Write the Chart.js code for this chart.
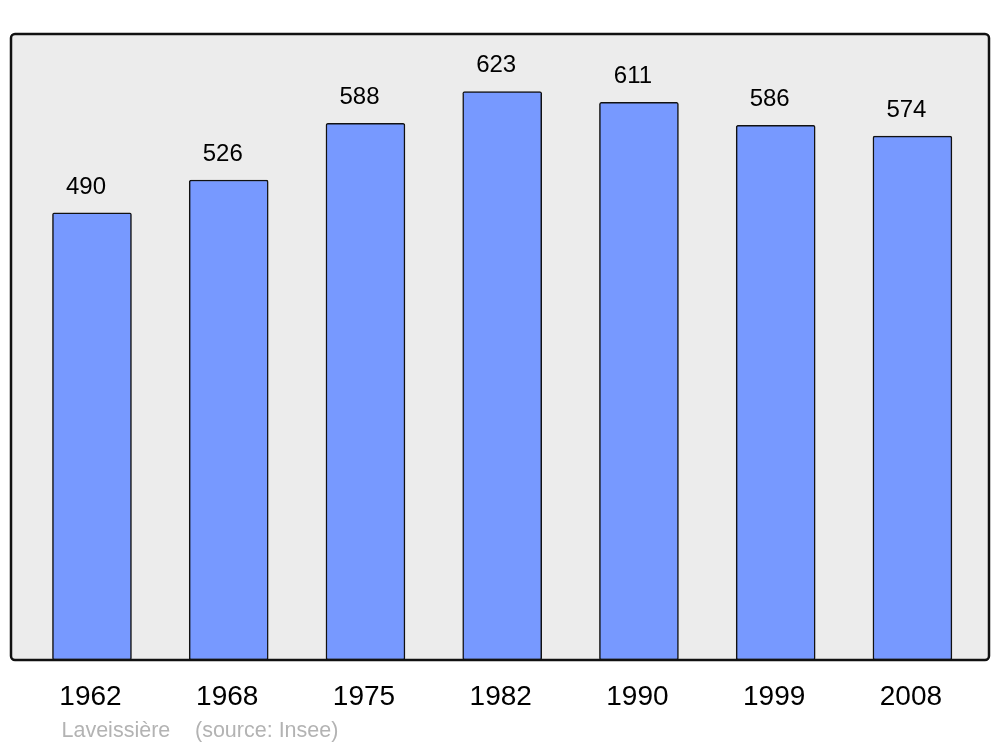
<!DOCTYPE html>
<html>
<head>
<meta charset="utf-8">
<script src="https://cdn.jsdelivr.net/npm/chart.js@4"></script>
<style>
html,body{margin:0;padding:0;background:#fff;}
#wrap{width:1000px;height:747px;}
</style>
</head>
<body>
<div id="wrap"><canvas id="c" width="1000" height="747"></canvas></div>
<script>
const years = ["1962","1968","1975","1982","1990","1999","2008"];
const population = [490,526,588,623,611,586,574];
const placeName = "Laveissière";
const sourceText = "(source: Insee)";

const FONT = '"Liberation Sans", Arial, sans-serif';

function roundRect(ctx,x,y,w,h,r){
  ctx.beginPath();
  ctx.moveTo(x+r,y);
  ctx.lineTo(x+w-r,y);
  ctx.arcTo(x+w,y,x+w,y+r,r);
  ctx.lineTo(x+w,y+h-r);
  ctx.arcTo(x+w,y+h,x+w-r,y+h,r);
  ctx.lineTo(x+r,y+h);
  ctx.arcTo(x,y+h,x,y+h-r,r);
  ctx.lineTo(x,y+r);
  ctx.arcTo(x,y,x+r,y,r);
  ctx.closePath();
}

const framePlugin = {
  id:'frame',
  beforeDatasetsDraw(chart){
    const ctx = chart.ctx;
    ctx.save();
    roundRect(ctx,11,34,978,626,4);
    ctx.fillStyle = '#ececec';
    ctx.fill();
    ctx.restore();
  },
  afterDatasetsDraw(chart){
    const ctx = chart.ctx;
    const xs = chart.scales.x, ys = chart.scales.y;
    ctx.save();
    roundRect(ctx,11,34,978,626,4);
    ctx.lineWidth = 2.5;
    ctx.strokeStyle = '#111';
    ctx.stroke();
    // value labels
    ctx.fillStyle = '#000';
    ctx.font = '24px ' + FONT;
    ctx.textAlign = 'center';
    ctx.textBaseline = 'alphabetic';
    population.forEach((v,i)=>{
      const x = xs.getPixelForValue(i);
      const y = ys.getPixelForValue(v);
      ctx.fillText(String(v), x-6, y-19);
    });
    // category labels
    ctx.font = '28px ' + FONT;
    years.forEach((yr,i)=>{
      const x = xs.getPixelForValue(i);
      ctx.fillText(yr, x-1.5, 705);
    });
    // footer
    ctx.fillStyle = '#b3b3b3';
    ctx.font = '21.5px ' + FONT;
    ctx.textAlign = 'left';
    ctx.fillText(placeName, 61.5, 737);
    ctx.fillText(sourceText, 195, 737);
    ctx.restore();
  }
};

new Chart(document.getElementById('c'),{
  type:'bar',
  data:{
    labels: years,
    datasets:[{
      data: population,
      backgroundColor:'#7799ff',
      borderColor:'#111',
      borderWidth:1.5,
      borderRadius:2,
      borderSkipped:false,
      barThickness:79,
      clip:false
    }]
  },
  options:{
    responsive:false,
    animation:false,
    layout:{padding:{left:23.6,right:19.2,top:34,bottom:87}},
    plugins:{legend:{display:false},tooltip:{enabled:false},title:{display:false}},
    scales:{
      x:{display:false},
      y:{display:false,min:0,max:686}
    }
  },
  plugins:[framePlugin]
});
</script>
</body>
</html>
